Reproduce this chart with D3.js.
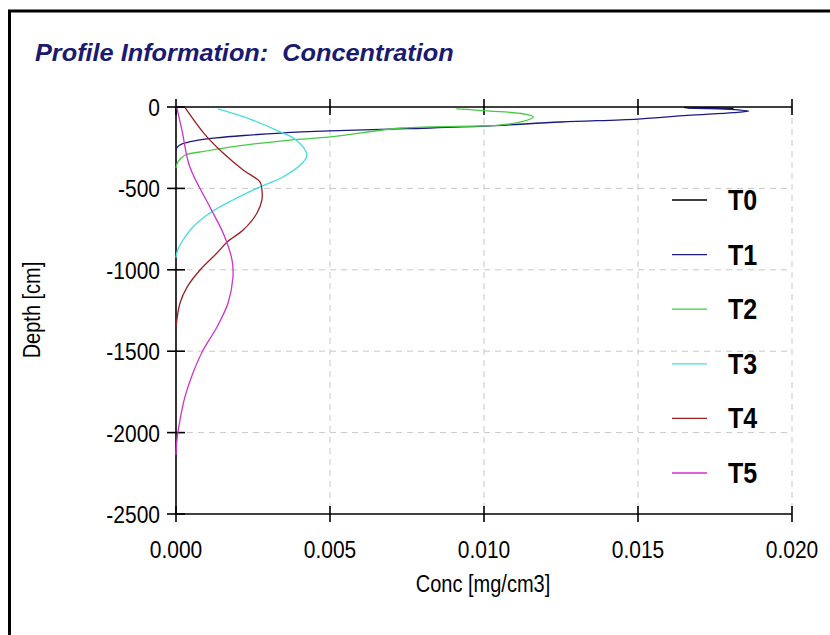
<!DOCTYPE html>
<head>
    <title></title>
    <meta charset="utf-8">
    <script src="https://d3js.org/d3.v7.min.js"></script>
    <style>
        body {
            margin: 0;
            background: #fff;
            font-family: "Liberation Sans", Arial, sans-serif;
        }
        .grid line {
            stroke: #c8c8c8;
            stroke-dasharray: 6,5;
        }
        .curve {
            fill: none;
            stroke-width: 1.3px;
        }
    </style>
</head>
<body>
<svg id="svg" width="830" height="635"></svg>
<script>
    // series: [conc, depth]
    let seriesNames = ["T0", "T1", "T2", "T3", "T4", "T5"];
    let seriesColors = ["#000000", "#1a1a80", "#44cc44", "#44dddd", "#992222", "#cc33cc"];

    let t0 = [[0.0165, -3], [0.0175, -6], [0.0181, -9]];
    let t1 = [[0.0166, -6], [0.0180, -14], [0.0186, -25], [0.0181, -35], [0.0166, -52],
              [0.0150, -74], [0.0125, -92], [0.0100, -118], [0.0075, -133], [0.0050, -147],
              [0.0034, -160], [0.0022, -175], [0.0013, -190], [0.0006, -208], [0.0002, -227],
              [0.00005, -245], [0.0, -264]];
    let t2 = [[0.0091, -12], [0.0102, -25], [0.0113, -43], [0.0116, -61], [0.0112, -92],
              [0.0105, -111], [0.0073, -129], [0.0050, -184], [0.0037, -203], [0.00175, -246],
              [0.0008, -276], [0.0003, -295], [0.00006, -338], [0.0, -375]];
    let t3 = [[0.00136, -12], [0.0024, -74], [0.0034, -154], [0.0039, -203], [0.00425, -295],
              [0.0041, -344], [0.00347, -430], [0.00273, -491], [0.00185, -571], [0.0011, -651],
              [0.00055, -737], [0.00023, -817], [0.00005, -880], [0.0, -927]];
    let t4 = [[0.0003, -6], [0.0009, -160], [0.00153, -283], [0.00218, -387], [0.00273, -461],
              [0.00279, -510], [0.00279, -571], [0.00263, -651], [0.00218, -756], [0.00166, -829],
              [0.00133, -897], [0.00078, -1001], [0.00036, -1106], [0.00013, -1204], [0.0, -1351]];
    let t5 = [[0.00003, -6], [0.0002, -150], [0.00045, -369], [0.0011, -614], [0.00153, -774],
              [0.00182, -940], [0.00185, -1044], [0.00169, -1204], [0.00133, -1351], [0.00088, -1493],
              [0.00055, -1634], [0.00029, -1781], [0.00013, -1923], [0.00003, -2045], [0.0, -2137]];
    let seriesData = [t0, t1, t2, t3, t4, t5];

    let xTicks = [0, 0.005, 0.010, 0.015, 0.020];
    let yTicks = [0, -500, -1000, -1500, -2000, -2500];

    let svg = d3.select("#svg");
    let tall = " scale(1,1.15)";

    // outer frame (top and left edges only are visible)
    svg.append("line").attr("x1", 8).attr("y1", 11).attr("x2", 830).attr("y2", 11)
        .attr("stroke", "#000").attr("stroke-width", 3);
    svg.append("line").attr("x1", 9.5).attr("y1", 10).attr("x2", 9.5).attr("y2", 635)
        .attr("stroke", "#000").attr("stroke-width", 3);

    svg.append("text")
        .attr("transform", "translate(35,61) scale(1.1,1.05)")
        .attr("fill", "#1a1a70")
        .style("white-space", "pre")
        .style("font-size", "23px").style("font-weight", "bold").style("font-style", "italic")
        .text("Profile Information:  Concentration");

    let x = d3.scaleLinear().domain([0, 0.02]).range([176, 792]);
    let y = d3.scaleLinear().domain([-2500, 0]).range([514, 107]);

    // grid
    let grid = svg.append("g").attr("class", "grid");
    grid.selectAll(".vx").data(xTicks.slice(1)).enter().append("line")
        .attr("x1", d => x(d)).attr("x2", d => x(d))
        .attr("y1", y(0)).attr("y2", y(-2500));
    grid.selectAll(".hy").data(yTicks.slice(1, -1)).enter().append("line")
        .attr("x1", x(0)).attr("x2", x(0.02))
        .attr("y1", d => y(d)).attr("y2", d => y(d));

    // axes lines
    let axisG = svg.append("g").attr("stroke", "#000").attr("stroke-width", 1.6);
    axisG.append("line").attr("x1", x(0)).attr("x2", x(0)).attr("y1", y(0)).attr("y2", y(-2500));
    axisG.append("line").attr("x1", x(0)).attr("x2", x(0.02)).attr("y1", y(-2500)).attr("y2", y(-2500));
    axisG.append("line").attr("x1", x(0)).attr("x2", x(0.02)).attr("y1", y(0)).attr("y2", y(0));

    // tick marks crossing axes
    xTicks.forEach(function (t) {
        axisG.append("line").attr("x1", x(t)).attr("x2", x(t)).attr("y1", y(-2500) - 8).attr("y2", y(-2500) + 8);
        axisG.append("line").attr("x1", x(t)).attr("x2", x(t)).attr("y1", y(0) - 8).attr("y2", y(0) + 8);
    });
    yTicks.forEach(function (t) {
        axisG.append("line").attr("x1", x(0) - 9).attr("x2", x(0) + 9).attr("y1", y(t)).attr("y2", y(t));
    });

    // tick labels
    svg.selectAll(".xl").data(xTicks).enter().append("text")
        .attr("transform", d => "translate(" + x(d) + ",558)" + tall)
        .attr("text-anchor", "middle")
        .style("font-size", "21px")
        .text(d3.format(".3f"));
    svg.selectAll(".yl").data(yTicks).enter().append("text")
        .attr("transform", d => "translate(160," + (y(d) + 9) + ")" + tall)
        .attr("text-anchor", "end")
        .style("font-size", "21px")
        .text(d => d);

    svg.append("text")
        .attr("transform", "translate(483,592)" + tall)
        .attr("text-anchor", "middle")
        .style("font-size", "20px")
        .text("Conc [mg/cm3]");
    svg.append("text")
        .attr("transform", "translate(40,310) rotate(-90)" + tall)
        .attr("text-anchor", "middle")
        .style("font-size", "20px")
        .text("Depth [cm]");

    // curves
    let line = d3.line()
        .x(d => x(d[0]))
        .y(d => y(d[1]))
        .curve(d3.curveCatmullRom.alpha(0.5));

    svg.selectAll(".curve").data(seriesData).enter().append("path")
        .attr("class", "curve")
        .attr("stroke", (d, i) => seriesColors[i])
        .attr("d", line);

    // legend
    let legend = svg.selectAll(".leg").data(seriesNames).enter().append("g")
        .attr("transform", (d, i) => "translate(0," + (200 + i * 54.6) + ")");
    legend.append("line")
        .attr("x1", 672).attr("x2", 707)
        .attr("stroke", (d, i) => seriesColors[i])
        .attr("stroke-width", 1.3);
    legend.append("text")
        .attr("transform", "translate(728,10)" + tall)
        .style("font-size", "25px").style("font-weight", "bold")
        .text(d => d);
</script>
</body>
